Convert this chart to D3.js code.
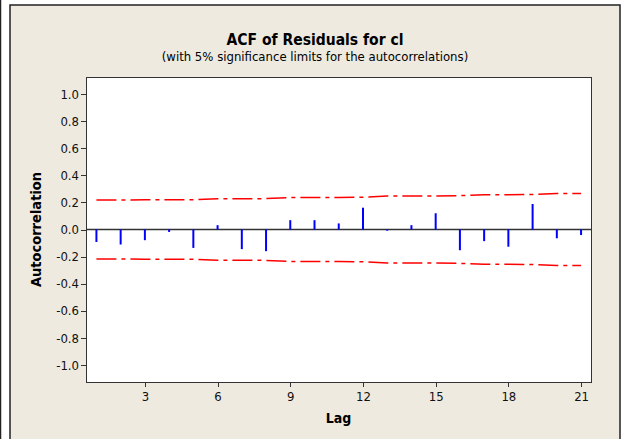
<!DOCTYPE html>
<meta charset="utf-8">
<style>
body { margin: 0; background: #fff; }
svg text { font-family: Tahoma, "DejaVu Sans Condensed", "DejaVu Sans", sans-serif; fill: #000; }
.axis path, .axis line { stroke: #333; shape-rendering: crispEdges; }
</style>
<body>
<div id="chart"></div>
<script src="https://d3js.org/d3.v7.min.js"></script>
<script>

// data
var lags = d3.range(1, 22);
var acf = [-0.092, -0.111, -0.079, -0.018, -0.136, 0.032, -0.145, -0.160, 0.069, 0.069,
           0.045, 0.161, -0.009, 0.032, 0.120, -0.153, -0.086, -0.127, 0.188, -0.065, -0.041];
var upperLimit = [0.217, 0.218, 0.219, 0.219, 0.219, 0.227, 0.227, 0.228, 0.236, 0.237,
                  0.237, 0.238, 0.247, 0.247, 0.248, 0.250, 0.256, 0.257, 0.259, 0.266, 0.266];
var lowerLimit = [-0.217, -0.218, -0.219, -0.219, -0.219, -0.227, -0.227, -0.228, -0.236, -0.237,
                  -0.237, -0.238, -0.247, -0.247, -0.248, -0.250, -0.256, -0.257, -0.259, -0.266, -0.266];
var xTicks = [3, 6, 9, 12, 15, 18, 21];
var yTicks = [-1.0, -0.8, -0.6, -0.4, -0.2, 0.0, 0.2, 0.4, 0.6, 0.8, 1.0];

var W = 621, H = 439;
var plot = {left: 86, top: 77, right: 591, bottom: 382};

var svg = d3.select("#chart").append("svg")
    .attr("width", W)
    .attr("height", H);

// outer frame bits
svg.append("rect").attr("x", 0).attr("y", 0).attr("width", W).attr("height", H).attr("fill", "#fff");
svg.append("line").attr("x1", 0.5).attr("x2", 0.5).attr("y1", 0).attr("y2", H)
    .attr("stroke", "#222").attr("stroke-width", 1.5);
svg.append("rect")
    .attr("x", 10).attr("y", 5).attr("width", 610).attr("height", H)
    .attr("fill", "#eeeae0")
    .attr("stroke", "#222").attr("stroke-width", 1.5);

// titles
svg.append("text")
    .attr("x", 315).attr("y", 45)
    .attr("text-anchor", "middle")
    .style("font-size", "15.5px").style("font-weight", "bold")
    .text("ACF of Residuals for cl");
svg.append("text")
    .attr("x", 315).attr("y", 61)
    .attr("text-anchor", "middle")
    .style("font-size", "13px")
    .text("(with 5% significance limits for the autocorrelations)");

var x = d3.scaleLinear().domain([0.57, 21.41]).range([plot.left, plot.right]);
var y = d3.scaleLinear().domain([-1.126, 1.126]).range([plot.bottom, plot.top]);

// plot box
svg.append("rect")
    .attr("x", plot.left).attr("y", plot.top)
    .attr("width", plot.right - plot.left).attr("height", plot.bottom - plot.top)
    .attr("fill", "#fff")
    .attr("stroke", "#333").attr("stroke-width", 1)
    .style("shape-rendering", "crispEdges");

// axes
var tickFont = function(g) {
  g.select(".domain").remove();
  g.attr("font-size", null).attr("font-family", null);
  g.selectAll("text")
    .attr("font-size", 13)
    .style("font-family", "'DejaVu Sans Condensed', 'DejaVu Sans', sans-serif")
    .style("font-size", "13px")
    .style("fill", "#111");
};

svg.append("g")
    .attr("class", "axis")
    .attr("transform", "translate(0," + plot.bottom + ")")
    .call(d3.axisBottom(x).tickValues(xTicks).tickSize(5).tickPadding(5))
    .call(tickFont);

svg.append("g")
    .attr("class", "axis")
    .attr("transform", "translate(" + plot.left + ",0)")
    .call(d3.axisLeft(y).tickValues(yTicks).tickSize(5).tickPadding(2)
        .tickFormat(function(d) { return d.toFixed(1).replace("\u2212", "-"); }))
    .call(tickFont);

// axis titles
svg.append("text")
    .attr("x", (plot.left + plot.right) / 2).attr("y", 423)
    .attr("text-anchor", "middle")
    .style("font-size", "14px").style("font-weight", "bold")
    .text("Lag");
svg.append("text")
    .attr("transform", "translate(41," + y(0) + ") rotate(-90)")
    .attr("text-anchor", "middle")
    .style("font-size", "14.5px").style("font-weight", "bold")
    .text("Autocorrelation");

// zero line
svg.append("line")
    .attr("x1", plot.left).attr("x2", plot.right)
    .attr("y1", y(0)).attr("y2", y(0))
    .attr("stroke", "#333").attr("stroke-width", 1.5);

// significance limits
var limitLine = d3.line()
    .x(function(d, i) { return x(lags[i]); })
    .y(function(d) { return y(d); });

[upperLimit, lowerLimit].forEach(function(lim) {
  svg.append("path")
      .datum(lim)
      .attr("d", limitLine)
      .attr("fill", "none")
      .attr("stroke", "#ff0000")
      .attr("stroke-width", 1.5)
      .attr("stroke-dasharray", "20,5,4,5");
});

// acf bars
svg.append("g")
  .selectAll("line")
  .data(acf)
  .enter()
  .append("line")
    .attr("x1", function(d, i) { return x(lags[i]); })
    .attr("x2", function(d, i) { return x(lags[i]); })
    .attr("y1", y(0))
    .attr("y2", function(d) { return y(d); })
    .attr("stroke", "#0000ff")
    .attr("stroke-width", 2);

</script>
</body>
